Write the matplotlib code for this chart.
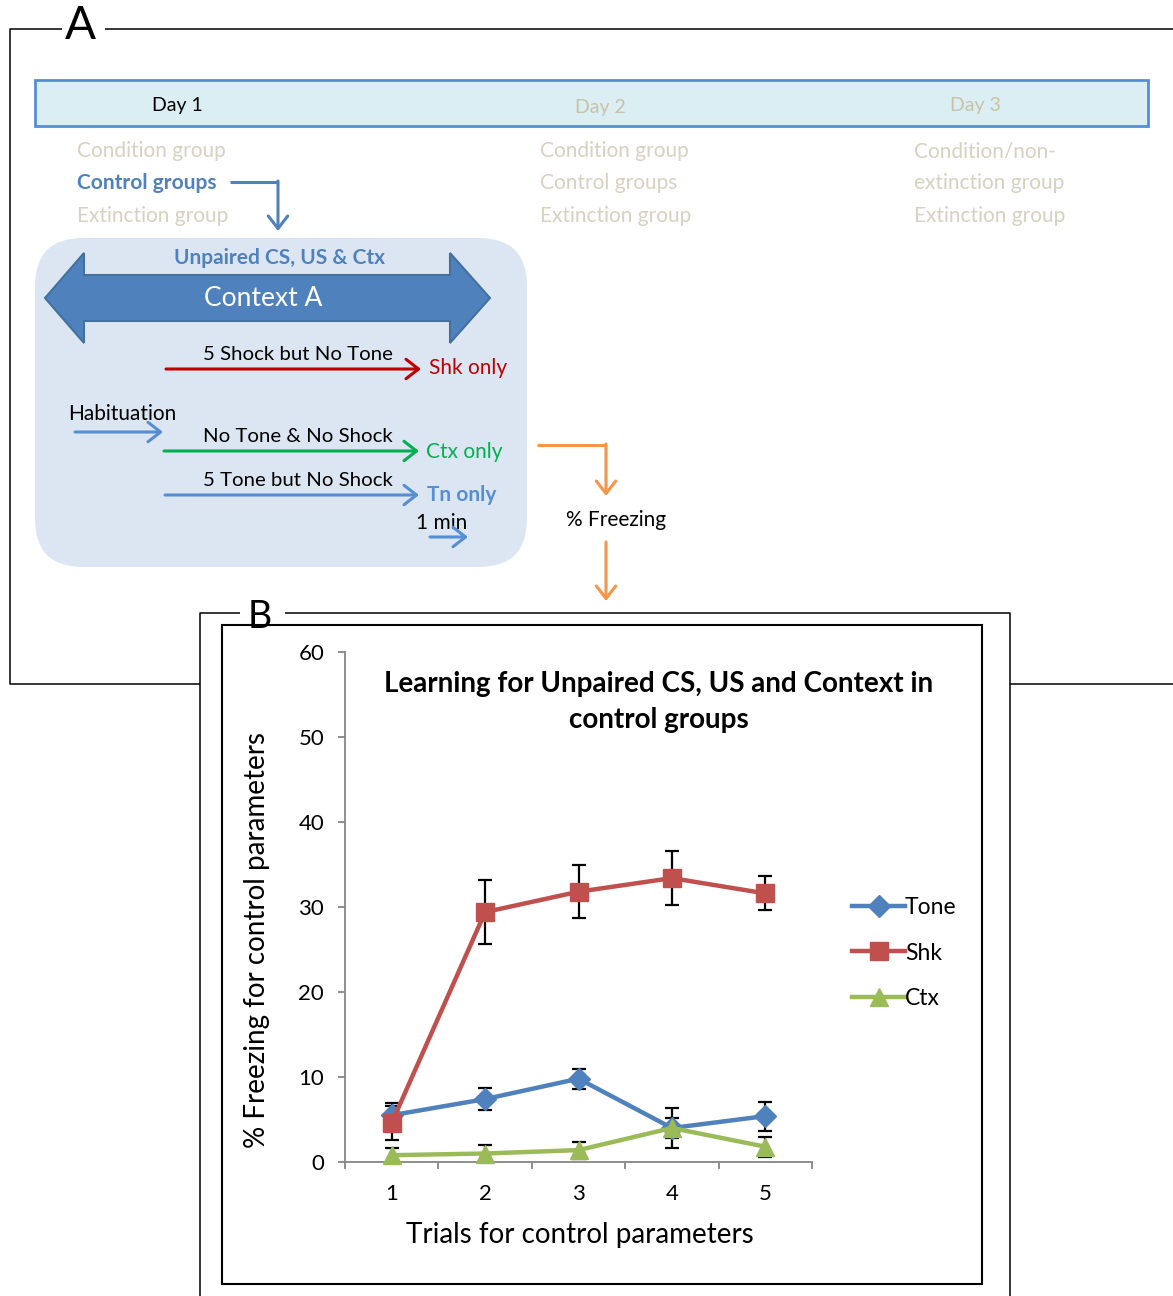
import matplotlib
matplotlib.use("Agg")
import matplotlib.pyplot as plt
from matplotlib.patches import FancyBboxPatch, Polygon, Rectangle

plt.rcParams['font.family'] = ['Lato', 'DejaVu Sans']

# ---- data: % freezing per trial for the three control groups ----
trials = [1, 2, 3, 4, 5]
series_names = ["Tone", "Shk", "Ctx"]
tone = [5.5, 7.4, 9.8, 4.0, 5.4]
tone_err = [1.5, 1.3, 1.2, 2.4, 1.7]
shk = [4.6, 29.4, 31.8, 33.4, 31.6]
shk_err = [2.0, 3.8, 3.1, 3.2, 2.0]
ctx = [0.8, 1.0, 1.4, 4.0, 1.8]
ctx_err = [0.8, 1.0, 1.0, 1.2, 1.2]
y_ticks = [0, 10, 20, 30, 40, 50, 60]

title = "Learning for Unpaired CS, US and Context in\ncontrol groups"
x_label = "Trials for control parameters"
y_label = "% Freezing for control parameters"

BLUE = "#4F81BD"
RED = "#C0504D"
GREEN = "#9BBB59"
ORANGE = "#F79646"
FADE = "#D6D1C1"
FADE_DAY = "#C9C2A6"

W, H = 1173, 1296
fig = plt.figure(figsize=(W / 100, H / 100), dpi=100)

# background canvas in pixel units (y downwards)
bg = fig.add_axes([0, 0, 1, 1])
bg.set_xlim(0, W)
bg.set_ylim(H, 0)
bg.axis("off")


def seg(xs, ys, color, lw=1.1):
    bg.plot(xs, ys, color=color, lw=lw, solid_capstyle="butt")


def arrow(x0, y0, x1, y1, color, lw=2.2, hl=0.45, hw=0.35):
    bg.annotate("", xy=(x1, y1), xytext=(x0, y0),
                arrowprops=dict(arrowstyle=f"->,head_length={hl},head_width={hw}",
                                color=color, lw=lw, shrinkA=0, shrinkB=0,
                                mutation_scale=20))


# ---- panel A frame ----
seg([62, 10, 10, 200], [29, 29, 684, 684], "black")
seg([105, W], [29, 29], "black")
seg([1010, W], [684, 684], "black")
bg.text(80, 26, "A", fontsize=33, ha="center", va="center")

# day bar
bg.add_patch(Rectangle((35, 80), 1113, 46, fc="#DAEEF3", ec="#558ED5", lw=2))
bg.text(177, 105, "Day 1", fontsize=14, ha="center", va="center", color="black")
bg.text(600, 107, "Day 2", fontsize=14, ha="center", va="center", color=FADE_DAY)
bg.text(975, 106, "Day 3", fontsize=14, ha="center", va="center", color=FADE_DAY)

# group lists
rows_y = [151, 183, 216]
bg.text(77, rows_y[0], "Condition group", fontsize=15, va="center", color=FADE)
bg.text(77, rows_y[1], "Control groups", fontsize=15, va="center", color=BLUE,
        fontweight="bold")
bg.text(77, rows_y[2], "Extinction group", fontsize=15, va="center", color=FADE)
for yy, s in zip(rows_y, ["Condition group", "Control groups", "Extinction group"]):
    bg.text(540, yy, s, fontsize=15, va="center", color=FADE)
for yy, s in zip(rows_y, ["Condition/non-", "extinction group", "Extinction group"]):
    bg.text(914, yy, s, fontsize=15, va="center", color=FADE)

seg([230, 278], [182, 182], BLUE, lw=2.2)
arrow(278, 181, 278, 231, BLUE)

# rounded context box
bg.add_patch(FancyBboxPatch((35, 238), 492, 329,
                            boxstyle="round,pad=0,rounding_size=48",
                            fc="#DCE6F2", ec="none"))
bg.text(280, 258, "Unpaired CS, US & Ctx", fontsize=15, ha="center", va="center",
        color=BLUE, fontweight="bold")
bg.add_patch(Polygon([(45, 298), (84, 253), (84, 275), (450, 275), (450, 253),
                      (490, 298), (450, 343), (450, 321), (84, 321), (84, 343)],
                     closed=True, fc=BLUE, ec="#41719C", lw=1.5))
bg.text(263, 298, "Context A", fontsize=19, ha="center", va="center", color="white")

# protocol arrows
bg.text(298, 354, "5 Shock but No Tone", fontsize=14.7, ha="center", va="center")
arrow(166, 369, 421, 369, "#C00000")
bg.text(429, 368, "Shk only", fontsize=15, va="center", color="#C00000")

bg.text(68, 414, "Habituation", fontsize=15, va="center")
arrow(75, 432, 163, 432, "#558ED5")

bg.text(298, 436, "No Tone & No Shock", fontsize=14.7, ha="center", va="center")
arrow(164, 451, 419, 451, "#00B050")
bg.text(426, 452, "Ctx only", fontsize=15, va="center", color="#00B050")

bg.text(298, 480, "5 Tone but No Shock", fontsize=14.7, ha="center", va="center")
arrow(165, 495, 419, 495, "#558ED5")
bg.text(427, 495, "Tn only", fontsize=15, va="center", color="#558ED5",
        fontweight="bold")

bg.text(416, 523, "1 min", fontsize=15, va="center")
arrow(430, 537, 468, 537, "#558ED5")

# orange flow to % freezing
seg([537, 606], [445, 445], ORANGE, lw=2.2)
arrow(606, 444, 606, 496, ORANGE)
bg.text(616, 520, "% Freezing", fontsize=15, ha="center", va="center")
arrow(606, 542, 606, 601, ORANGE)

# ---- panel B frame ----
seg([240, 200, 200], [613, 613, H], "black")
seg([285, 1010, 1010], [613, 613, H], "black")
bg.text(260, 617, "B", fontsize=27, ha="center", va="center")
bg.add_patch(Rectangle((222, 625), 760, 659, fc="white", ec="black", lw=1.5))

# ---- chart ----
ax = fig.add_axes([345 / W, 1 - 1162 / H, (812 - 345) / W, (1162 - 652) / H])
ax.set_facecolor("none")
ax.set_xlim(0.5, 5.5)
ax.set_ylim(0, 60)

for vals, errs in [(tone, tone_err), (shk, shk_err), (ctx, ctx_err)]:
    ax.errorbar(trials, vals, yerr=errs, fmt="none", ecolor="black",
                elinewidth=1.6, capsize=5, capthick=1.6, zorder=2)

l_tone, = ax.plot(trials, tone, color=BLUE, lw=3.2, marker="D", ms=11,
                  zorder=3, clip_on=False)
l_shk, = ax.plot(trials, shk, color=RED, lw=3.2, marker="s", ms=13,
                 zorder=4, clip_on=False)
l_ctx, = ax.plot(trials, ctx, color=GREEN, lw=3.2, marker="^", ms=13,
                 zorder=5, clip_on=False)

for s in ["top", "right"]:
    ax.spines[s].set_visible(False)
for s in ["left", "bottom"]:
    ax.spines[s].set_color("#868686")
    ax.spines[s].set_linewidth(1.3)

ax.set_yticks(y_ticks)
ax.set_xticks(trials)
ax.set_xticks([0.5, 1.5, 2.5, 3.5, 4.5, 5.5], minor=True)
ax.tick_params(axis="y", direction="out", length=5, width=1.3, color="#868686",
               labelsize=16, pad=10)
ax.tick_params(axis="x", which="major", length=0, labelsize=16, pad=16)
ax.tick_params(axis="x", which="minor", direction="out", length=5, width=1.3,
               color="#868686")

ax.set_xlabel(x_label, fontsize=20, va="center")
ax.xaxis.set_label_coords((579.5 - 345) / 467, (1162 - 1235) / 510)
ax.set_ylabel(y_label, fontsize=20, va="center")
ax.yaxis.set_label_coords((257 - 345) / 467, (1162 - 940) / 510)

ax.text((659 - 345) / 467, (1162 - 702) / 510, title, transform=ax.transAxes,
        ha="center", va="center", fontsize=20, fontweight="bold",
        linespacing=1.5)

ax.legend([l_tone, l_shk, l_ctx], series_names, loc="center left",
          bbox_to_anchor=(843 / W, 1 - 953 / H), bbox_transform=fig.transFigure,
          frameon=False, handlelength=2.3, handletextpad=0.0, labelspacing=1.05,
          fontsize=16.5, borderaxespad=0)

fig.savefig("out.png", dpi=100)
